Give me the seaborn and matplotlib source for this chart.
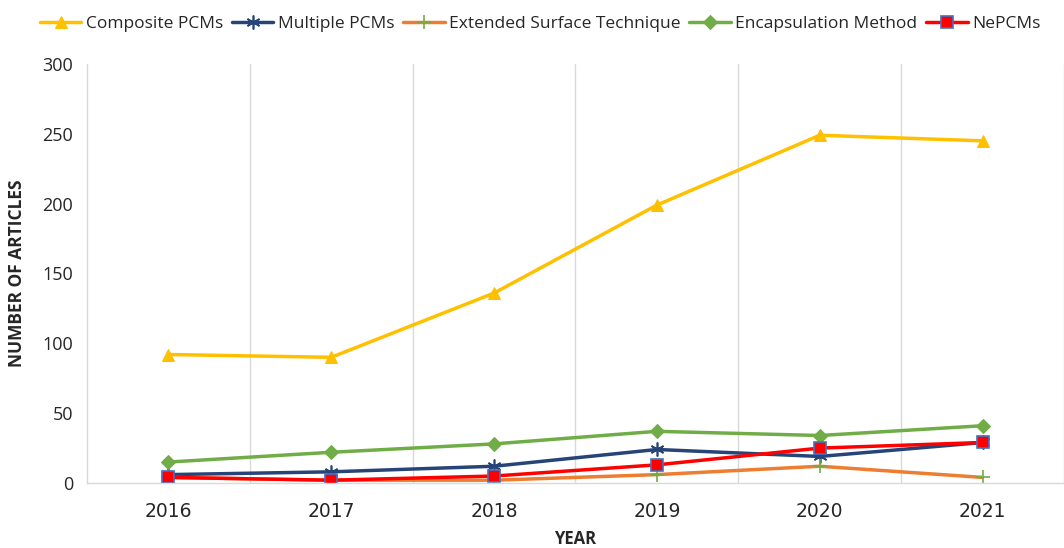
import seaborn as sns
import matplotlib.pyplot as plt
import pandas as pd

# Данные
years = ['2016', '2017', '2018', '2019', '2020', '2021']
composite = [92, 90, 136, 199, 249, 245]
multiple = [6, 8, 12, 24, 19, 29]
extended = [4, 2, 2, 6, 12, 4]
encapsulation = [15, 22, 28, 37, 34, 41]
nepcms = [4, 2, 5, 13, 25, 29]

series = [
    ('Composite PCMs', composite, dict(color='#FFC000', marker='^', markersize=8,
                                       markerfacecolor='#FFC000', markeredgecolor='#FFC000')),
    ('Multiple PCMs', multiple, dict(color='#264478', marker=(6, 2, 0), markersize=10,
                                     markeredgecolor='#264478', markeredgewidth=1.2)),
    ('Extended Surface Technique', extended, dict(color='#ED7D31', marker='+', markersize=10,
                                                  markeredgecolor='#70AD47', markeredgewidth=1.2)),
    ('Encapsulation Method', encapsulation, dict(color='#70AD47', marker='D', markersize=7,
                                                 markerfacecolor='#70AD47', markeredgecolor='#70AD47')),
    ('NePCMs', nepcms, dict(color='#FF0000', marker='s', markersize=9,
                            markerfacecolor='#FF0000', markeredgecolor='#4472C4', markeredgewidth=1.2)),
]

sns.set_style('white')
plt.rcParams['font.family'] = ['Open Sans', 'DejaVu Sans']

fig = plt.figure(figsize=(10.64, 5.48), dpi=100)
ax = fig.add_axes([87 / 1064, 1 - 483 / 548, 977 / 1064, (483 - 64) / 548])

pos = list(range(len(years)))
for name, vals, style in series:
    df = pd.DataFrame({'x': pos, 'y': vals})
    sns.lineplot(data=df, x='x', y='y', ax=ax, label=name, linewidth=2.5, **style)

ax.set_xlim(-0.5, -0.5 + 977 / 164)
ax.set_ylim(0, 300)
ax.set_yticks(range(0, 301, 50))
ax.set_xticks(pos)
ax.set_xticklabels(years)
ax.set_xticks([p + 0.5 for p in pos], minor=True)
ax.tick_params(axis='x', which='both', length=0, pad=14, labelsize=13.5)
ax.tick_params(axis='y', length=0, pad=10, labelsize=13)
for lbl in ax.get_xticklabels():
    lbl.set_fontfamily(['DejaVu Sans'])
ax.grid(axis='x', which='minor', color='#d9d9d9', linewidth=1)
ax.grid(axis='y', visible=False)
ax.grid(axis='x', which='major', visible=False)

for s in ['top', 'right']:
    ax.spines[s].set_visible(False)
for s in ['left', 'bottom']:
    ax.spines[s].set_color('#d9d9d9')
    ax.spines[s].set_linewidth(1)

ax.set_xlabel('YEAR', fontsize=12, fontweight='bold', labelpad=6)
ax.set_ylabel('NUMBER OF ARTICLES', fontsize=12.5, fontweight='bold', labelpad=12)

ax.legend(loc='center', bbox_to_anchor=(540 / 1064, 1 - 24 / 548), bbox_transform=fig.transFigure,
          ncol=5, frameon=False, fontsize=12.5, handlelength=2.4, handletextpad=0.25,
          columnspacing=0.5)

fig.savefig('out.png', dpi=100)
